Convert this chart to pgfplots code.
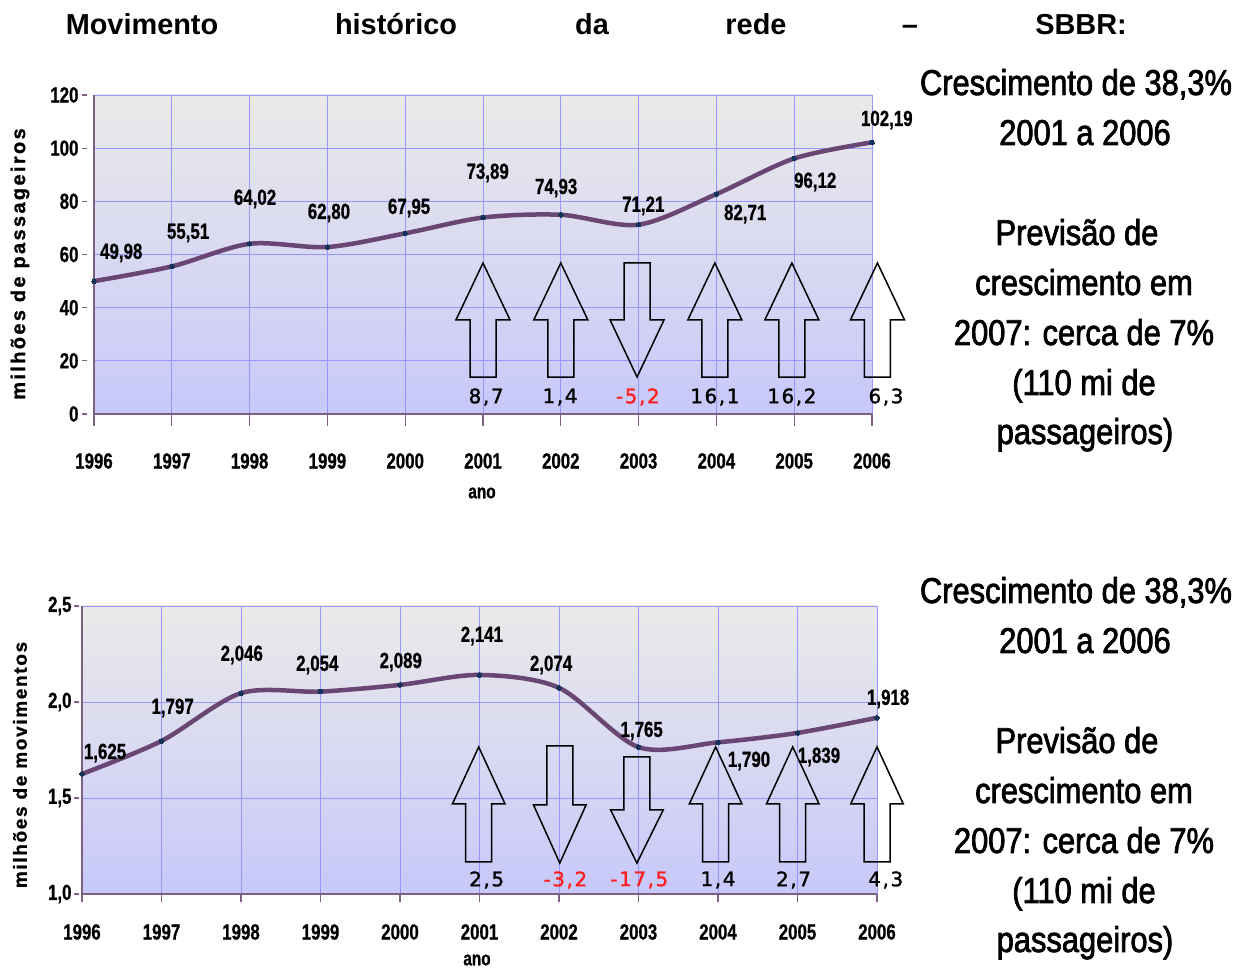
\documentclass[border=0pt]{standalone}
\usepackage{fontspec}
\setmainfont{Liberation Sans}
\newfontfamily\nb[FakeStretch=0.77,FakeBold=0.8]{Liberation Sans Bold}
\newfontfamily\nr[FakeStretch=0.86,FakeBold=2]{Liberation Sans}
\newfontfamily\tb{Liberation Sans Bold}
\newfontfamily\lb[LetterSpace=12,FakeBold=1]{Liberation Sans Bold}
\newfontfamily\lbb[LetterSpace=9,FakeBold=1]{Liberation Sans Bold}
\newfontfamily\vf[LetterSpace=8,FakeBold=1.5]{DejaVu Sans}
\usepackage{pgfplots}
\pgfplotsset{compat=1.18}
\definecolor{gridc}{RGB}{150,150,255}
\definecolor{axc}{RGB}{128,96,128}
\definecolor{linec}{RGB}{105,70,115}
\definecolor{markc}{RGB}{20,50,90}
\definecolor{bgtop}{RGB}{234,234,234}
\definecolor{bgbot}{RGB}{200,200,250}
\definecolor{redc}{RGB}{255,30,30}
\newcommand{\arr}[6]{%
 \draw[black, line width=1.5bp, line join=miter] ([xshift=-#5]axis cs:#1,#2) -- ([xshift=-#5]axis cs:#1,#3) -- ([xshift=-#6]axis cs:#1,#3) -- (axis cs:#1,#4) -- ([xshift=#6]axis cs:#1,#3) -- ([xshift=#5]axis cs:#1,#3) -- ([xshift=#5]axis cs:#1,#2) -- cycle;}
\pgfplotsset{mystyle/.style={
 scale only axis, clip=false,
 axis x line*=bottom, axis y line*=left,
 axis line style={axc, line width=1.3bp},
 grid=major, major grid style={gridc, line width=0.9bp},
 axis background/.style={top color=bgtop, bottom color=bgbot},
 tick align=outside,
 every tick/.style={axc, line width=1.2bp},
 ytick style={dash pattern=on 5bp off 60bp},
 ticklabel style={font=\nb\fontsize{22}{22}\selectfont},
 xmin=1996, xmax=2006,
 xtick={1996,1997,1998,1999,2000,2001,2002,2003,2004,2005,2006},
 xticklabels={1996,1997,1998,1999,2000,2001,2002,2003,2004,2005,2006},
}}
\begin{document}
\begin{tikzpicture}[x=1bp,y=1bp]
\useasboundingbox (0,0) rectangle (1252,969);
% title
\begin{scope}[every node/.style={font=\tb\fontsize{29}{29}\selectfont, anchor=base}]
\node at (142,934) {Movimento};
\node at (396,934) {histórico};
\node at (592,934) {da};
\node at (756,934) {rede};
\node at (910,934) {–};
\node at (1081,934) {SBBR:};
\end{scope}
% top axis
\begin{axis}[mystyle, at={(94bp,555bp)}, anchor=south west, width=778bp, height=319bp,
 major tick length=12bp,
 xticklabel style={anchor=center, yshift=-35bp},
 yticklabel style={anchor=east, xshift=0bp},
 ymin=0, ymax=120, ytick={0,20,40,60,80,100,120},
 yticklabels={0,20,40,60,80,100,120}]
\addplot[linec, line width=4.5bp, smooth, tension=0.5, mark=*, mark size=2.3bp,
 mark options={markc, fill=markc, line width=0pt}] coordinates {
 (1996,49.98) (1997,55.51) (1998,64.02) (1999,62.80) (2000,67.95) (2001,73.89)
 (2002,74.93) (2003,71.21) (2004,82.71) (2005,96.12) (2006,102.19)};
\begin{scope}[every node/.style={font=\nb\fontsize{22}{22}\selectfont}]
\node at (axis cs:1996.35,60.6) {49,98};
\node at (axis cs:1997.21,68.1) {55,51};
\node at (axis cs:1998.07,80.9) {64,02};
\node at (axis cs:1999.02,75.6) {62,80};
\node at (axis cs:2000.05,77.5) {67,95};
\node at (axis cs:2001.06,90.7) {73,89};
\node at (axis cs:2001.94,85.0) {74,93};
\node at (axis cs:2003.06,78.3) {71,21};
\node at (axis cs:2004.37,75.2) {82,71};
\node at (axis cs:2005.27,87.3) {96,12};
\node at (axis cs:2006.19,110.6) {102,19};
\end{scope}
\arr{2001.0}{13.9}{35.4}{56.8}{13bp}{27bp}
\arr{2002.0}{13.9}{35.4}{56.8}{13bp}{27bp}
\arr{2002.98}{56.8}{35.4}{13.9}{13bp}{27bp}
\arr{2003.98}{13.9}{35.4}{56.8}{13bp}{27bp}
\arr{2004.97}{13.9}{35.4}{56.8}{13bp}{27bp}
\arr{2006.07}{13.9}{35.4}{56.8}{13bp}{27bp}
\begin{scope}[every node/.style={font=\vf\fontsize{20}{20}\selectfont}]
\node at (axis cs:2001.04,6.4) {8,7};
\node at (axis cs:2001.99,6.4) {1,4};
\node[text=redc] at (axis cs:2002.99,6.4) {-5,2};
\node at (axis cs:2003.98,6.4) {16,1};
\node at (axis cs:2004.97,6.4) {16,2};
\node at (axis cs:2006.18,6.4) {6,3};
\end{scope}
\end{axis}
\node[font=\nb\fontsize{20}{20}\selectfont] at (482,476) {ano};
\node[font=\lb\fontsize{20}{20}\selectfont, rotate=90] at (20,705) {milhões de passageiros};
% bottom axis
\begin{axis}[mystyle, at={(82bp,75bp)}, anchor=south west, width=795bp, height=288bp,
 major tick length=8bp,
 xticklabel style={anchor=center, yshift=-30bp},
 yticklabel style={anchor=east, xshift=1bp},
 ymin=1, ymax=2.5, ytick={1,1.5,2,2.5},
 yticklabels={{1,0},{1,5},{2,0},{2,5}}]
\addplot[linec, line width=4.5bp, smooth, tension=0.5, mark=*, mark size=2.3bp,
 mark options={markc, fill=markc, line width=0pt}] coordinates {
 (1996,1.625) (1997,1.797) (1998,2.046) (1999,2.054) (2000,2.089) (2001,2.141)
 (2002,2.074) (2003,1.765) (2004,1.790) (2005,1.839) (2006,1.918)};
\begin{scope}[every node/.style={font=\nb\fontsize{22}{22}\selectfont}]
\node at (axis cs:1996.29,1.734) {1,625};
\node at (axis cs:1997.14,1.969) {1,797};
\node at (axis cs:1998.01,2.245) {2,046};
\node at (axis cs:1998.96,2.193) {2,054};
\node at (axis cs:2000.01,2.208) {2,089};
\node at (axis cs:2001.03,2.344) {2,141};
\node at (axis cs:2001.90,2.193) {2,074};
\node at (axis cs:2003.04,1.849) {1,765};
\node at (axis cs:2004.39,1.693) {1,790};
\node at (axis cs:2005.27,1.714) {1,839};
\node at (axis cs:2006.14,2.016) {1,918};
\end{scope}
\arr{2000.99}{1.167}{1.469}{1.766}{13bp}{26.3bp}
\arr{2002.01}{1.771}{1.464}{1.161}{13bp}{26.3bp}
\arr{2002.98}{1.714}{1.4375}{1.161}{13bp}{26.3bp}
\arr{2003.97}{1.167}{1.469}{1.766}{13bp}{26.3bp}
\arr{2004.94}{1.167}{1.469}{1.766}{13bp}{26.3bp}
\arr{2006.0}{1.167}{1.469}{1.766}{13bp}{26.3bp}
\begin{scope}[every node/.style={font=\vf\fontsize{20}{20}\selectfont}]
\node at (axis cs:2001.09,1.073) {2,5};
\node[text=redc] at (axis cs:2002.08,1.073) {-3,2};
\node[text=redc] at (axis cs:2003.01,1.073) {-17,5};
\node at (axis cs:2004.0,1.073) {1,4};
\node at (axis cs:2004.95,1.073) {2,7};
\node at (axis cs:2006.11,1.073) {4,3};
\end{scope}
\end{axis}
\node[font=\nb\fontsize{20}{20}\selectfont] at (477,9) {ano};
\node[font=\lbb\fontsize{19}{19}\selectfont, rotate=90] at (20,204) {milhões de movimentos};
% right texts
\foreach \dy in {0,508} {
\begin{scope}[every node/.style={font=\nr\fontsize{36}{36}\selectfont, anchor=base}]
\node at (1076,874-\dy) {Crescimento de 38,3\%};
\node at (1085,824-\dy) {2001 a 2006};
\node at (1077,724-\dy) {Previsão de};
\node at (1084,674-\dy) {crescimento em};
\node at (1084,624-\dy) {2007: cerca de 7\%};
\node at (1084,574-\dy) {(110 mi de};
\node at (1085,525-\dy) {passageiros)};
\end{scope}
}
\end{tikzpicture}
\end{document}
